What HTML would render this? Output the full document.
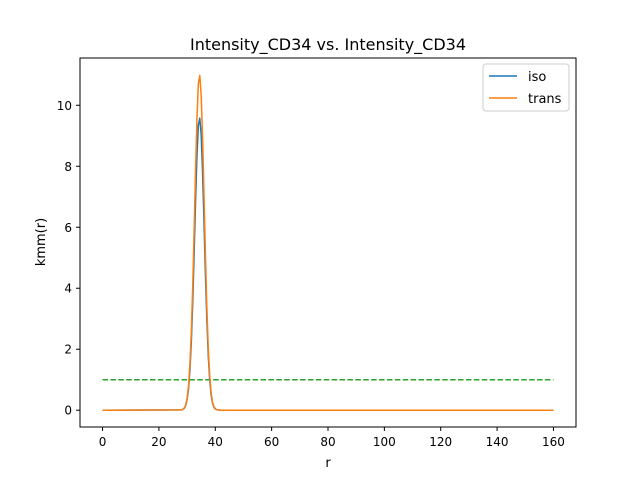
<!DOCTYPE html>
<html><head><meta charset="utf-8"><style>
body{margin:0;background:#fff;}
svg{font-family:"DejaVu Sans","Liberation Sans",sans-serif;}
</style></head><body>
<svg id="chart" width="640" height="480" viewBox="0 0 640 480">
<rect width="640" height="480" fill="#fff"/>
<text x="328" y="50" font-size="16" text-anchor="middle">Intensity_CD34 vs. Intensity_CD34</text>
<g id="plot"></g>
<rect x="80" y="58" width="496" height="369" fill="none" stroke="#000" stroke-width="1"/>
<text x="328" y="467" font-size="13" text-anchor="middle">r</text>
<text transform="translate(45,242) rotate(-90)" font-size="13" text-anchor="middle">kmm(r)</text>
<g>
<rect x="483" y="64" width="86" height="47" rx="3" fill="#fff" stroke="#ccc"/>
<line x1="489" y1="76" x2="517" y2="76" stroke="#1f77b4" stroke-width="1.5"/>
<text x="528" y="81" font-size="13">iso</text>
<line x1="489" y1="98" x2="517" y2="98" stroke="#ff7f0e" stroke-width="1.5"/>
<text x="528" y="103" font-size="13">trans</text>
</g>
</svg>
<script>
const rVals=[0,28,28.5,29,29.5,30,30.5,31,31.5,32,32.5,33,33.5,34,34.5,35,35.5,36,36.5,37,37.5,38,38.5,39,39.5,40,40.5,41,42,160];
const isoVals=[0,0.01,0.03,0.06,0.15,0.34,0.69,1.3,2.24,3.54,5.14,6.84,8.35,9.34,9.58,9.03,7.79,6.17,4.48,2.98,1.82,1.02,0.52,0.24,0.1,0.04,0.02,0.01,0,0];
const transVals=[0,0.01,0.03,0.07,0.17,0.39,0.79,1.49,2.57,4.06,5.89,7.84,9.56,10.7,10.98,10.34,8.92,7.07,5.13,3.41,2.09,1.17,0.6,0.28,0.12,0.05,0.02,0.01,0,0];
const refR=[0,160];
const refVals=[1,1];
const xTicks=[0,20,40,60,80,100,120,140,160];
const yTicks=[0,2,4,6,8,10];
const X=v=>80+(v+8)*496/176;
const Y=v=>427-(v+0.55)*369/12.1;
const NS="http://www.w3.org/2000/svg";
const g=document.getElementById('plot');
function mk(t,a){const e=document.createElementNS(NS,t);for(const k in a)e.setAttribute(k,a[k]);g.appendChild(e);return e;}
xTicks.forEach(t=>{
 const l=mk('line',{x1:X(t),x2:X(t),y1:427,y2:431,stroke:'#000'});
 
 
 const s=mk('text',{x:X(t),y:446,'font-size':12,'text-anchor':'middle'});s.textContent=t;
 
 
});
yTicks.forEach(t=>{
 const l=mk('line',{x1:76,x2:80,y1:Y(t),y2:Y(t),stroke:'#000'});
 
 
 const s=mk('text',{x:72,y:Y(t)+4.5,'font-size':12,'text-anchor':'end'});s.textContent=t;
 
 
});
function pts(xs,ys){return xs.map((x,i)=>X(x)+','+Y(ys[i])).join(' ');}
const ref=mk('polyline',{points:pts(refR,refVals),fill:'none',stroke:'#2ca02c','stroke-width':1.5,'stroke-dasharray':'5.5,2.4'});


const iso=mk('polyline',{points:pts(rVals,isoVals),fill:'none',stroke:'#1f77b4','stroke-width':1.5,'stroke-linejoin':'round'});


const tr=mk('polyline',{points:pts(rVals,transVals),fill:'none',stroke:'#ff7f0e','stroke-width':1.5,'stroke-linejoin':'round'});


</script>
</body></html>
